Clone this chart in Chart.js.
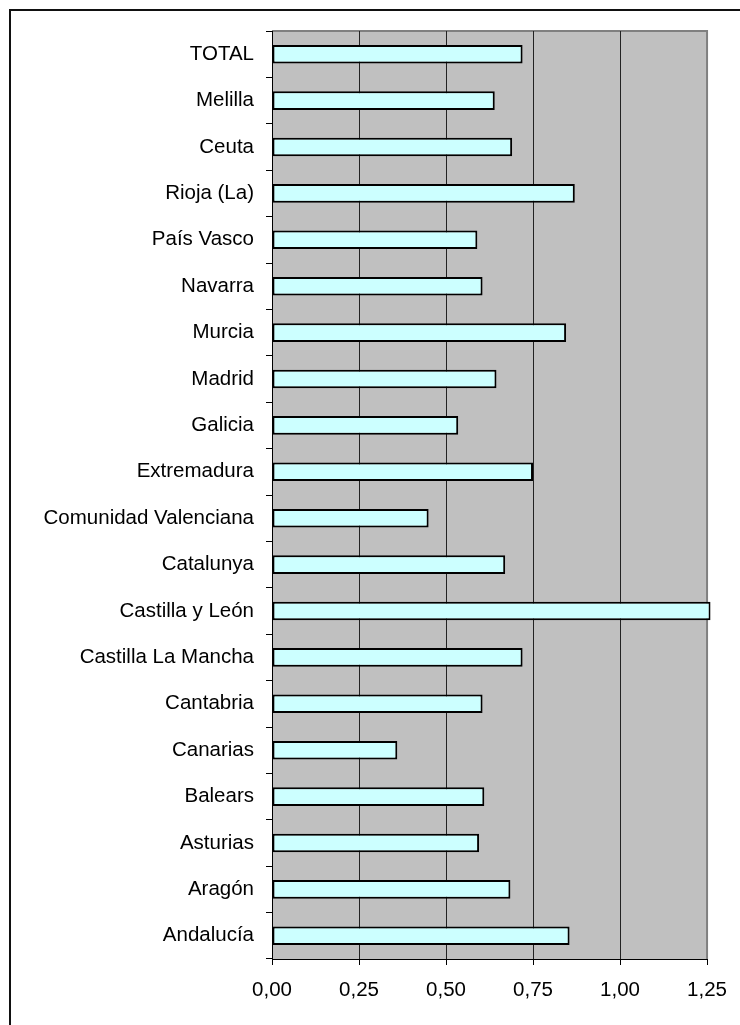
<!DOCTYPE html>
<html>
<head>
<meta charset="utf-8">
<script src="https://cdn.jsdelivr.net/npm/chart.js@4/dist/chart.umd.min.js"></script>
<style>
  html, body { margin: 0; padding: 0; background: #fff; }
  canvas { display: block; }
</style>
</head>
<body>
<canvas id="barChart" width="740" height="1025"></canvas>
<script>
// regions, top to bottom
var regions = [
    "TOTAL",
    "Melilla",
    "Ceuta",
    "Rioja (La)",
    "País Vasco",
    "Navarra",
    "Murcia",
    "Madrid",
    "Galicia",
    "Extremadura",
    "Comunidad Valenciana",
    "Catalunya",
    "Castilla y León",
    "Castilla La Mancha",
    "Cantabria",
    "Canarias",
    "Balears",
    "Asturias",
    "Aragón",
    "Andalucía",
];
var values = [
    0.72,
    0.64,
    0.69,
    0.87,
    0.59,
    0.605,
    0.845,
    0.645,
    0.535,
    0.75,
    0.45,
    0.67,
    1.26,
    0.72,
    0.605,
    0.36,
    0.61,
    0.595,
    0.685,
    0.855,
];
var xTicks = [0, 0.25, 0.5, 0.75, 1, 1.25];

var FONT = { family: "'Liberation Sans', Arial, sans-serif", size: 20.5 };

// grey plot area, outer frame
var plotBackground = {
    id: 'plotBackground',
    beforeDraw: function (chart) {
        var ctx = chart.ctx, a = chart.chartArea;
        ctx.save();
        ctx.strokeStyle = '#111';
        ctx.lineWidth = 2;
        ctx.strokeRect(10, 10, 780, 1060);
        ctx.fillStyle = '#C0C0C0';
        ctx.fillRect(a.left, a.top, a.right - a.left, a.bottom - a.top);
        ctx.strokeStyle = '#808080';
        ctx.lineWidth = 2;
        ctx.beginPath();
        ctx.moveTo(a.left, a.top);
        ctx.lineTo(a.right, a.top);
        ctx.lineTo(a.right, a.bottom);
        ctx.stroke();
        ctx.restore();
    }
};

var bar = document.getElementById("barChart").getContext('2d');
var myChart = new Chart(bar, {
    type: 'bar',
    data: {
        labels: regions,
        datasets: [
            {
                data: values,
                backgroundColor: '#CCFFFF',
                borderColor: '#000',
                borderWidth: 2,
                borderSkipped: false,
                categoryPercentage: 1,
                barPercentage: 0.4,
                clip: false
            }
        ]
    },
    options: {
        indexAxis: 'y',
        responsive: false,
        animation: false,
        layout: { padding: { top: 31, right: 31, left: 0, bottom: 0 } },
        plugins: {
            legend: { display: false },
            tooltip: { enabled: false }
        },
        scales: {
            x: {
                min: 0,
                max: 1.25,
                afterBuildTicks: function (scale) {
                    scale.ticks = xTicks.map(function (v) { return { value: v }; });
                },
                afterFit: function (scale) { scale.height = 66; },
                grid: {
                    color: function (c) {
                        if (c.tick && c.tick.value === 1.25) return '#808080';
                        return '#222';
                    },
                    tickColor: '#000',
                    tickLength: 6,
                    lineWidth: 1
                },
                border: { color: '#000', width: 1 },
                ticks: {
                    color: '#000',
                    font: FONT,
                    padding: 13,
                    maxRotation: 0,
                    callback: function (v) { return Number(v).toFixed(2).replace('.', ','); }
                }
            },
            y: {
                afterFit: function (scale) { scale.width = 272; },
                grid: {
                    drawOnChartArea: false,
                    tickColor: '#000',
                    tickLength: 6
                },
                border: { color: '#000', width: 1 },
                ticks: {
                    color: '#000',
                    font: FONT,
                    padding: 12
                }
            }
        }
    },
    plugins: [plotBackground]
});
</script>
</body>
</html>
